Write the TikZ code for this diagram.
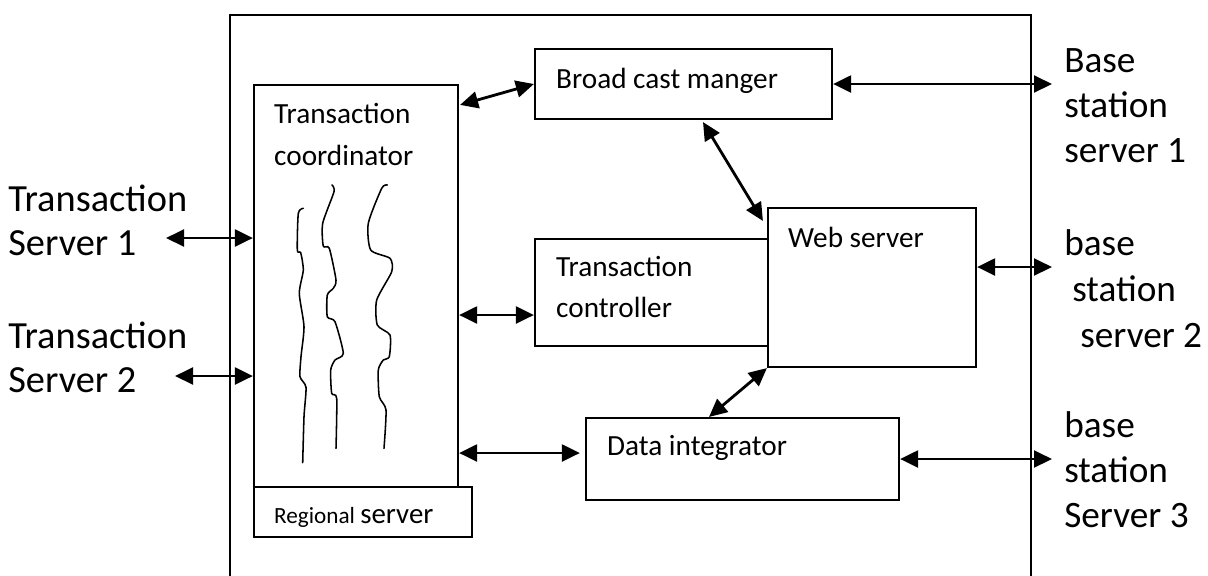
\documentclass[tikz,border=0pt]{standalone}
\usepackage{fontspec}
\setmainfont{Carlito}
\usepackage{tikz}
\usetikzlibrary{positioning,calc,arrows.meta}

\tikzset{
  box/.style={draw, line width=1.5pt, inner sep=0pt},
  txt/.style={inner sep=0pt, anchor=west, align=left, font=\fontsize{20.8}{29.5}\selectfont},
  extlabel/.style={inner ysep=0pt, inner xsep=0.3cm, anchor=west, align=left, font=\fontsize{26.5}{32}\selectfont},
  link/.style={line width=2pt, {Triangle[length=0.45cm,width=0.42cm]}-{Triangle[length=0.45cm,width=0.42cm]}},
  squiggle/.style={line width=1.1pt, line join=round, line cap=round}
}

\begin{document}
\begin{tikzpicture}[x=0.025cm, y=-0.025cm]
    \useasboundingbox (0,0) rectangle (1208,575);
    \clip (0,0) rectangle (1208,575);
    % Frame
    \draw[line width=1.5pt] (230,15) rectangle (1031,600);
    % Regional server
    \node[box, minimum width=5.1cm, minimum height=10.05cm] (tc) at (356,286) {};
    \node[txt] (tclabel) at ([shift={(21,50.5)}]tc.north west) {Transaction\\coordinator};
    \node[box, minimum width=5.45cm, minimum height=1.25cm] (reg) at (363,512) {};
    \node[inner sep=0pt, anchor=base west] (reglabel) at ([shift={(21,38)}]reg.north west)
        {\fontsize{16.5}{18}\selectfont Regional \fontsize{20.5}{22}\selectfont server};
    % Threads
    \draw[squiggle] plot[smooth, tension=0.4] coordinates {(303.3,208.3) (298.3,213.3) (297.3,250) (300.7,252.7) (303.3,270) (299.3,293.3) (304,326.7) (301,356.7) (300,376.7) (306,387.3) (304,416.7) (302.7,462.7)};
    \draw[squiggle] plot[smooth, tension=0.4] coordinates {(332,185) (334,191.7) (322.7,223.3) (323.3,246) (329.3,248.3) (336,280) (333.3,288.3) (327.3,295) (327.3,316.7) (335,321.7) (343.3,353.3) (335,360) (330.7,370) (331.7,393.3) (336.7,398.3) (336,448.3)};
    \draw[squiggle] plot[smooth, tension=0.4] coordinates {(387.3,185) (381.7,188.3) (368.3,223.3) (370.7,250) (390,258.3) (391.7,271.7) (376.7,300) (377.3,325) (390,335) (389.3,356.7) (383.3,360) (378.3,370) (379.3,396.7) (386,410) (384,448.3)};
    % Inner blocks
    \node[box, minimum width=7.425cm, minimum height=1.75cm] (bcm) at (683.5,84) {};
    \node[txt] (bcmlabel) at ([shift={(22,33)}]bcm.north west) {Broad cast manger};
    \node[box, minimum width=5.825cm, minimum height=2.675cm] (ctrl) at (651.5,292.5) {};
    \node[txt] (ctrllabel) at ([shift={(22,49)}]ctrl.north west) {Transaction\\controller};
    \node[box, fill=white, minimum width=5.2cm, minimum height=3.975cm] (web) at (872,287.5) {};
    \node[txt] (weblabel) at ([shift={(21,30.5)}]web.north west) {Web server};
    \node[box, minimum width=7.825cm, minimum height=2.05cm] (di) at (742.5,459) {};
    \node[txt] (dilabel) at ([shift={(22,31)}]di.north west) {Data integrator};
    % Outside servers
    \node[extlabel, inner xsep=0pt, font=\fontsize{27.3}{31.5}\selectfont] (ts1) at (8,220.5) {Transaction\\Server 1};
    \node[extlabel, inner xsep=0pt, font=\fontsize{27.3}{31.5}\selectfont] (ts2) at (8,357) {Transaction\\Server 2};
    \node[extlabel] (bs1) at (1052,106) {Base\\station\\server 1};
    \node[extlabel, font=\fontsize{26.5}{32.7}\selectfont] (bs2) at (1052,289) {base\\\hspace*{0.2cm}station\\\hspace*{0.4cm}server 2};
    \node[extlabel] (bs3) at (1052,470) {base\\station\\Server 3};
    \coordinate (ts1end) at (166,238);
    \coordinate (ts2end) at (175,376);
    % Links
    \draw[link] (ts1end) -- (ts1end -| tc.west);
    \draw[link] (ts2end) -- (ts2end -| tc.west);
    \draw[link] ([shift={(1,21)}]tc.north east) -- (bcm.west);
    \draw[link] (tc.east |- 0,315) -- (ctrl.west |- 0,315);
    \draw[link] (tc.east |- 0,453) -- ([shift={(-5,0)}]di.west |- 0,453);
    \draw[link] ([shift={(19.5,2)}]bcm.south) -- ([shift={(-4,14)}]web.north west);
    \draw[link] (web.south west) -- ([shift={(-33.5,0)}]di.north);
    \draw[link] (bcm.east) -- (bcm.east -| bs1.west);
    \draw[link] (web.east |- 0,267) -- (bs2.west |- 0,267);
    \draw[link] (di.east) -- (di.east -| bs3.west);
\end{tikzpicture}
\end{document}
